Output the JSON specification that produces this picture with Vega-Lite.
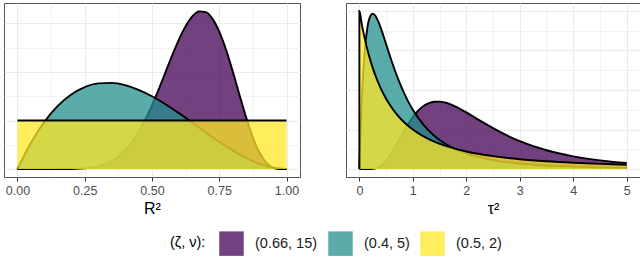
{
  "$schema": "https://vega.github.io/schema/vega-lite/v6.json",
  "padding": {"left": 3, "top": 2, "right": 3, "bottom": 0},
  "config": {
    "font": "Liberation Sans",
    "view": {"stroke": "#555555", "strokeWidth": 1},
    "axis": {"gridColor": "#ebebeb", "labelColor": "#4d4d4d", "labelFontSize": 12.5, "titleFontSize": 16, "titleFontWeight": "normal", "titleColor": "#000000", "tickColor": "#333333", "tickSize": 4, "domain": false, "labelPadding": 3, "titlePadding": 4},
    "concat": {"spacing": 44}
  },
  "datasets": {
    "r2": [
      {"g": "(0.66, 15)", "x": 0, "d": 0},
      {"g": "(0.66, 15)", "x": 0.05, "d": 0},
      {"g": "(0.66, 15)", "x": 0.1, "d": 0},
      {"g": "(0.66, 15)", "x": 0.15, "d": 0.0003},
      {"g": "(0.66, 15)", "x": 0.2, "d": 0.0026},
      {"g": "(0.66, 15)", "x": 0.25, "d": 0.0145},
      {"g": "(0.66, 15)", "x": 0.3, "d": 0.0554},
      {"g": "(0.66, 15)", "x": 0.35, "d": 0.161},
      {"g": "(0.66, 15)", "x": 0.4, "d": 0.381},
      {"g": "(0.66, 15)", "x": 0.45, "d": 0.761},
      {"g": "(0.66, 15)", "x": 0.475, "d": 1.017},
      {"g": "(0.66, 15)", "x": 0.5, "d": 1.314},
      {"g": "(0.66, 15)", "x": 0.525, "d": 1.644},
      {"g": "(0.66, 15)", "x": 0.55, "d": 1.993},
      {"g": "(0.66, 15)", "x": 0.575, "d": 2.342},
      {"g": "(0.66, 15)", "x": 0.6, "d": 2.667},
      {"g": "(0.66, 15)", "x": 0.625, "d": 2.944},
      {"g": "(0.66, 15)", "x": 0.65, "d": 3.146},
      {"g": "(0.66, 15)", "x": 0.675, "d": 3.248},
      {"g": "(0.66, 15)", "x": 0.7, "d": 3.233},
      {"g": "(0.66, 15)", "x": 0.725, "d": 3.093},
      {"g": "(0.66, 15)", "x": 0.75, "d": 2.829},
      {"g": "(0.66, 15)", "x": 0.775, "d": 2.459},
      {"g": "(0.66, 15)", "x": 0.8, "d": 2.013},
      {"g": "(0.66, 15)", "x": 0.825, "d": 1.531},
      {"g": "(0.66, 15)", "x": 0.85, "d": 1.061},
      {"g": "(0.66, 15)", "x": 0.875, "d": 0.651},
      {"g": "(0.66, 15)", "x": 0.9, "d": 0.335},
      {"g": "(0.66, 15)", "x": 0.925, "d": 0.131},
      {"g": "(0.66, 15)", "x": 0.95, "d": 0.0316},
      {"g": "(0.66, 15)", "x": 0.975, "d": 0.0023},
      {"g": "(0.66, 15)", "x": 1, "d": 0},
      {"g": "(0.4, 5)", "x": 0, "d": 0},
      {"g": "(0.4, 5)", "x": 0.05, "d": 0.5415},
      {"g": "(0.4, 5)", "x": 0.1, "d": 0.972},
      {"g": "(0.4, 5)", "x": 0.15, "d": 1.3005},
      {"g": "(0.4, 5)", "x": 0.2, "d": 1.536},
      {"g": "(0.4, 5)", "x": 0.25, "d": 1.6875},
      {"g": "(0.4, 5)", "x": 0.3, "d": 1.764},
      {"g": "(0.4, 5)", "x": 0.35, "d": 1.7745},
      {"g": "(0.4, 5)", "x": 0.4, "d": 1.728},
      {"g": "(0.4, 5)", "x": 0.45, "d": 1.6335},
      {"g": "(0.4, 5)", "x": 0.5, "d": 1.5},
      {"g": "(0.4, 5)", "x": 0.55, "d": 1.3365},
      {"g": "(0.4, 5)", "x": 0.6, "d": 1.152},
      {"g": "(0.4, 5)", "x": 0.65, "d": 0.9555},
      {"g": "(0.4, 5)", "x": 0.7, "d": 0.756},
      {"g": "(0.4, 5)", "x": 0.75, "d": 0.5625},
      {"g": "(0.4, 5)", "x": 0.8, "d": 0.384},
      {"g": "(0.4, 5)", "x": 0.85, "d": 0.2295},
      {"g": "(0.4, 5)", "x": 0.9, "d": 0.108},
      {"g": "(0.4, 5)", "x": 0.95, "d": 0.0285},
      {"g": "(0.4, 5)", "x": 1, "d": 0},
      {"g": "(0.5, 2)", "x": 0, "d": 1},
      {"g": "(0.5, 2)", "x": 0.5, "d": 1},
      {"g": "(0.5, 2)", "x": 1, "d": 1}
    ],
    "tau2": [
      {"g": "(0.66, 15)", "x": 0, "d": 0},
      {"g": "(0.66, 15)", "x": 0.1, "d": 0},
      {"g": "(0.66, 15)", "x": 0.2, "d": 0.0004},
      {"g": "(0.66, 15)", "x": 0.3, "d": 0.0047},
      {"g": "(0.66, 15)", "x": 0.4, "d": 0.0199},
      {"g": "(0.66, 15)", "x": 0.5, "d": 0.0515},
      {"g": "(0.66, 15)", "x": 0.6, "d": 0.0991},
      {"g": "(0.66, 15)", "x": 0.7, "d": 0.1573},
      {"g": "(0.66, 15)", "x": 0.8, "d": 0.219},
      {"g": "(0.66, 15)", "x": 0.9, "d": 0.2777},
      {"g": "(0.66, 15)", "x": 1, "d": 0.3286},
      {"g": "(0.66, 15)", "x": 1.1, "d": 0.3691},
      {"g": "(0.66, 15)", "x": 1.2, "d": 0.3985},
      {"g": "(0.66, 15)", "x": 1.3, "d": 0.4171},
      {"g": "(0.66, 15)", "x": 1.4, "d": 0.426},
      {"g": "(0.66, 15)", "x": 1.5, "d": 0.4268},
      {"g": "(0.66, 15)", "x": 1.6, "d": 0.4209},
      {"g": "(0.66, 15)", "x": 1.8, "d": 0.395},
      {"g": "(0.66, 15)", "x": 2, "d": 0.3584},
      {"g": "(0.66, 15)", "x": 2.25, "d": 0.3078},
      {"g": "(0.66, 15)", "x": 2.5, "d": 0.2587},
      {"g": "(0.66, 15)", "x": 2.75, "d": 0.2146},
      {"g": "(0.66, 15)", "x": 3, "d": 0.1768},
      {"g": "(0.66, 15)", "x": 3.5, "d": 0.1191},
      {"g": "(0.66, 15)", "x": 4, "d": 0.0805},
      {"g": "(0.66, 15)", "x": 4.5, "d": 0.055},
      {"g": "(0.66, 15)", "x": 5, "d": 0.0381},
      {"g": "(0.4, 5)", "x": 0, "d": 0},
      {"g": "(0.4, 5)", "x": 0.025, "d": 0.2652},
      {"g": "(0.4, 5)", "x": 0.05, "d": 0.4701},
      {"g": "(0.4, 5)", "x": 0.1, "d": 0.7451},
      {"g": "(0.4, 5)", "x": 0.15, "d": 0.8949},
      {"g": "(0.4, 5)", "x": 0.2, "d": 0.9645},
      {"g": "(0.4, 5)", "x": 0.25, "d": 0.983},
      {"g": "(0.4, 5)", "x": 0.3, "d": 0.9696},
      {"g": "(0.4, 5)", "x": 0.35, "d": 0.9367},
      {"g": "(0.4, 5)", "x": 0.4, "d": 0.8925},
      {"g": "(0.4, 5)", "x": 0.5, "d": 0.7901},
      {"g": "(0.4, 5)", "x": 0.6, "d": 0.6866},
      {"g": "(0.4, 5)", "x": 0.7, "d": 0.5916},
      {"g": "(0.4, 5)", "x": 0.8, "d": 0.5081},
      {"g": "(0.4, 5)", "x": 0.9, "d": 0.4362},
      {"g": "(0.4, 5)", "x": 1, "d": 0.375},
      {"g": "(0.4, 5)", "x": 1.2, "d": 0.2794},
      {"g": "(0.4, 5)", "x": 1.4, "d": 0.211},
      {"g": "(0.4, 5)", "x": 1.6, "d": 0.1616},
      {"g": "(0.4, 5)", "x": 1.8, "d": 0.1255},
      {"g": "(0.4, 5)", "x": 2, "d": 0.0988},
      {"g": "(0.4, 5)", "x": 2.5, "d": 0.0571},
      {"g": "(0.4, 5)", "x": 3, "d": 0.0352},
      {"g": "(0.4, 5)", "x": 3.5, "d": 0.0228},
      {"g": "(0.4, 5)", "x": 4, "d": 0.0154},
      {"g": "(0.4, 5)", "x": 4.5, "d": 0.0107},
      {"g": "(0.4, 5)", "x": 5, "d": 0.0077},
      {"g": "(0.5, 2)", "x": 0, "d": 0},
      {"g": "(0.5, 2)", "x": 0.001, "d": 1},
      {"g": "(0.5, 2)", "x": 0.05, "d": 0.907},
      {"g": "(0.5, 2)", "x": 0.1, "d": 0.8264},
      {"g": "(0.5, 2)", "x": 0.15, "d": 0.7561},
      {"g": "(0.5, 2)", "x": 0.2, "d": 0.6944},
      {"g": "(0.5, 2)", "x": 0.25, "d": 0.64},
      {"g": "(0.5, 2)", "x": 0.3, "d": 0.5917},
      {"g": "(0.5, 2)", "x": 0.4, "d": 0.5102},
      {"g": "(0.5, 2)", "x": 0.5, "d": 0.4444},
      {"g": "(0.5, 2)", "x": 0.6, "d": 0.3906},
      {"g": "(0.5, 2)", "x": 0.7, "d": 0.346},
      {"g": "(0.5, 2)", "x": 0.8, "d": 0.3086},
      {"g": "(0.5, 2)", "x": 0.9, "d": 0.277},
      {"g": "(0.5, 2)", "x": 1, "d": 0.25},
      {"g": "(0.5, 2)", "x": 1.2, "d": 0.2066},
      {"g": "(0.5, 2)", "x": 1.4, "d": 0.1736},
      {"g": "(0.5, 2)", "x": 1.6, "d": 0.1479},
      {"g": "(0.5, 2)", "x": 1.8, "d": 0.1276},
      {"g": "(0.5, 2)", "x": 2, "d": 0.1111},
      {"g": "(0.5, 2)", "x": 2.5, "d": 0.0816},
      {"g": "(0.5, 2)", "x": 3, "d": 0.0625},
      {"g": "(0.5, 2)", "x": 3.5, "d": 0.0494},
      {"g": "(0.5, 2)", "x": 4, "d": 0.04},
      {"g": "(0.5, 2)", "x": 4.5, "d": 0.0331},
      {"g": "(0.5, 2)", "x": 5, "d": 0.0278}
    ]
  },
  "hconcat": [
    {
      "width": 296,
      "height": 174,
      "data": {"name": "r2"},
      "encoding": {
        "x": {"field": "x", "type": "quantitative", "title": "R²",
          "scale": {"domain": [-0.05, 1.05], "nice": false, "zero": false},
          "axis": {"values": [0, 0.125, 0.25, 0.375, 0.5, 0.625, 0.75, 0.875, 1],
            "labelExpr": "abs(datum.value*4 - round(datum.value*4)) < 0.000001 ? format(datum.value, '.2f') : ''",
            "tickOpacity": {"condition": {"test": "abs(datum.value*4 - round(datum.value*4)) < 0.000001", "value": 1}, "value": 0},
            "gridWidth": {"condition": {"test": "abs(datum.value*4 - round(datum.value*4)) < 0.000001", "value": 1.1}, "value": 0.6}}},
        "y": {"field": "d", "type": "quantitative",
          "scale": {"domain": [-0.163, 3.42], "nice": false, "zero": false},
          "axis": {"values": [0, 0.5, 1, 1.5, 2, 2.5, 3], "labels": false, "ticks": false, "title": null,
            "gridWidth": {"condition": {"test": "datum.value % 1 === 0", "value": 1.1}, "value": 0.6}}}
      },
      "layer": [
        {"transform": [{"filter": "datum.g === '(0.66, 15)'"}], "layer": [
          {"mark": {"type": "area", "opacity": 0.75, "interpolate": "monotone"}, "encoding": {"y2": {"datum": 0}, "color": {"field": "g", "type": "nominal", "scale": {"domain": ["(0.66, 15)", "(0.4, 5)", "(0.5, 2)"], "range": ["#440154", "#21908C", "#FDE725"]}, "legend": {"orient": "none", "legendX": 166, "legendY": 228, "direction": "horizontal", "title": "(ζ, ν):", "titleOrient": "left", "titleBaseline": "middle", "symbolType": "square", "symbolSize": 600, "symbolOpacity": 0.75, "symbolStrokeWidth": 0, "labelFontSize": 14.5, "titleFontSize": 14.5, "titleFontWeight": "normal", "labelColor": "#1a1a1a", "titleColor": "#000000", "labelOffset": 11, "columnPadding": 10, "titlePadding": 13}}}},
          {"mark": {"type": "line", "color": "black", "strokeWidth": 1.9, "interpolate": "monotone"}}
        ]},
        {"transform": [{"filter": "datum.g === '(0.4, 5)'"}], "layer": [
          {"mark": {"type": "area", "opacity": 0.75, "interpolate": "monotone"}, "encoding": {"y2": {"datum": 0}, "color": {"field": "g", "type": "nominal"}}},
          {"mark": {"type": "line", "color": "black", "strokeWidth": 1.9, "interpolate": "monotone"}}
        ]},
        {"transform": [{"filter": "datum.g === '(0.5, 2)'"}], "layer": [
          {"mark": {"type": "area", "opacity": 0.75, "interpolate": "monotone"}, "encoding": {"y2": {"datum": 0}, "color": {"field": "g", "type": "nominal"}}},
          {"mark": {"type": "line", "color": "black", "strokeWidth": 1.9, "interpolate": "monotone"}}
        ]}
      ]
    },
    {
      "width": 294,
      "height": 174,
      "data": {"name": "tau2"},
      "encoding": {
        "x": {"field": "x", "type": "quantitative", "title": "τ²",
          "scale": {"domain": [-0.25, 5.25], "nice": false, "zero": false},
          "axis": {"values": [0, 0.5, 1, 1.5, 2, 2.5, 3, 3.5, 4, 4.5, 5],
            "labelExpr": "datum.value % 1 === 0 ? format(datum.value, 'd') : ''",
            "tickOpacity": {"condition": {"test": "datum.value % 1 === 0", "value": 1}, "value": 0},
            "gridWidth": {"condition": {"test": "datum.value % 1 === 0", "value": 1.1}, "value": 0.6}}},
        "y": {"field": "d", "type": "quantitative",
          "scale": {"domain": [-0.05, 1.05], "nice": false, "zero": false},
          "axis": {"values": [0, 0.125, 0.25, 0.375, 0.5, 0.625, 0.75, 0.875, 1], "labels": false, "ticks": false, "title": null,
            "gridWidth": {"condition": {"test": "abs(datum.value*4 - round(datum.value*4)) < 0.000001", "value": 1.1}, "value": 0.6}}}
      },
      "layer": [
        {"transform": [{"filter": "datum.g === '(0.66, 15)'"}], "layer": [
          {"mark": {"type": "area", "opacity": 0.75, "interpolate": "monotone"}, "encoding": {"y2": {"datum": 0}, "color": {"field": "g", "type": "nominal"}}},
          {"mark": {"type": "line", "color": "black", "strokeWidth": 1.9, "interpolate": "monotone"}}
        ]},
        {"transform": [{"filter": "datum.g === '(0.4, 5)'"}], "layer": [
          {"mark": {"type": "area", "opacity": 0.75, "interpolate": "monotone"}, "encoding": {"y2": {"datum": 0}, "color": {"field": "g", "type": "nominal"}}},
          {"mark": {"type": "line", "color": "black", "strokeWidth": 1.9, "interpolate": "monotone"}}
        ]},
        {"transform": [{"filter": "datum.g === '(0.5, 2)'"}], "layer": [
          {"mark": {"type": "area", "opacity": 0.75, "interpolate": "monotone"}, "encoding": {"y2": {"datum": 0}, "color": {"field": "g", "type": "nominal"}}},
          {"mark": {"type": "line", "color": "black", "strokeWidth": 1.9, "interpolate": "monotone"}}
        ]}
      ]
    }
  ]
}
